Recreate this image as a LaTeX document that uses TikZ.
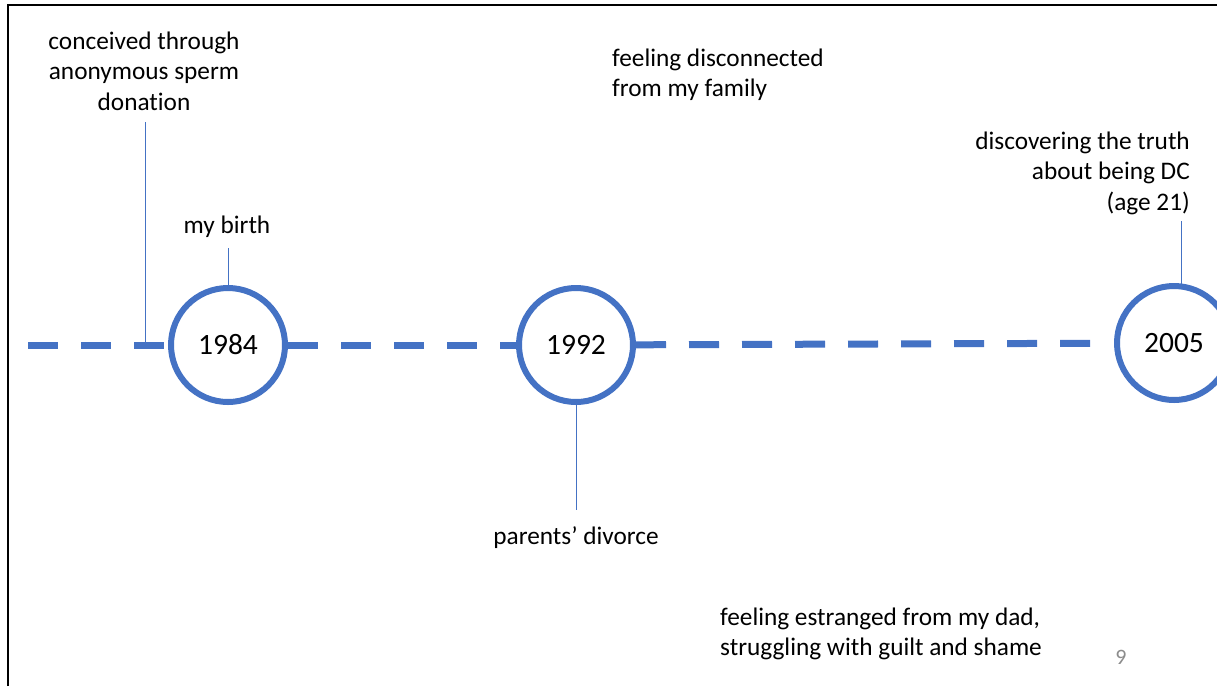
\documentclass[tikz,border=0pt]{standalone}
\usepackage{fontspec}
\setmainfont[Ligatures=NoCommon]{Carlito}
\usetikzlibrary{positioning}
\definecolor{tlblue}{HTML}{4472C4}
\definecolor{pagegray}{HTML}{8C8C8C}

\begin{document}
\begin{tikzpicture}[x=1pt,y=-1pt,
    year/.style={circle, draw=tlblue, line width=6pt, fill=white,
      minimum size=114pt, inner sep=0pt, font=\fontsize{29.5}{35}\selectfont},
    lbl/.style={font=\fontsize{25.3}{30.5}\selectfont, inner sep=0pt},
    tick/.style={draw=tlblue, line width=1pt},
    timeline/.style={draw=tlblue, line width=7pt, dash pattern=on 30pt off 23pt}]
    \useasboundingbox (0,0) rectangle (1217,686);
    % slide frame (only left and top show)
    \draw[line width=2pt] (8,686) -- (8,5) -- (1217,5);

    % the years
    \node[year] (c1984) at (228,345) {1984};
    \node[year] (c1992) at (576,345) {1992};
    \node[year] (c2005) at (1174,343) {2005};

    % timeline
    \coordinate (start) at (28,345);
    \draw[timeline] (start) -- (c1984);
    \draw[timeline] (c1984) -- (c1992);
    \draw[timeline, shorten >=4pt] (c1992) -- (c2005);

    % labels
    \node[lbl, align=center] (conceived) at (144,71) {conceived through\\anonymous sperm\\donation};
    \node[lbl] (birth) at (227,227) {my birth};
    \node[lbl] (divorce) at (576,538) {parents’ divorce};
    \node[lbl, align=left, anchor=west] (disconn) at (612,75) {feeling disconnected\\from my family};
    \node[lbl, align=right, anchor=east] (truth) at (1190,173) {discovering the truth\\about being DC\\(age 21)};
    \node[lbl, align=left, anchor=west] (estranged) at (720,634) {feeling estranged from my dad,\\struggling with guilt and shame};
    \node[font=\fontsize{22}{26}\selectfont, text=pagegray] (pagenum) at (1121,657) {9};

    % ticks
    \coordinate (donation) at (145,345);
    \draw[tick] (145,122) -- (donation);
    \draw[tick] (c1984.north) -- ++(0,-37);
    \draw[tick] (c1992.south) -- ++(0,105);
    \draw[tick] (1181,284) -- (1181,221);
\end{tikzpicture}
\end{document}
